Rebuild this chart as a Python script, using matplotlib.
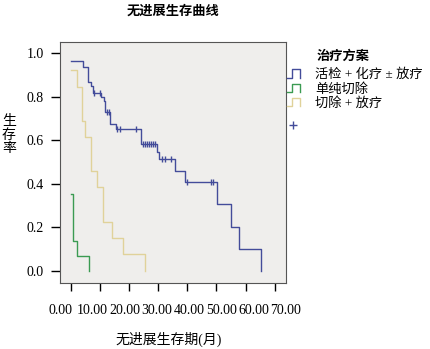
import numpy as np
import matplotlib
matplotlib.use("Agg")
import matplotlib.pyplot as plt
from matplotlib.lines import Line2D
from matplotlib.legend_handler import HandlerBase

plt.rcParams['font.family'] = ['Liberation Serif', 'Noto Sans CJK SC']
CJK_BOLD = ['Noto Sans CJK SC', 'DejaVu Sans']

# Kaplan-Meier steps (start time, then each drop)
t_biopsy = [0.1, 4.1, 6.0, 6.9, 7.5, 10.3, 11.3, 11.9, 13.5, 15.5, 24.0,
            29.7, 30.3, 35.8, 39.2, 50.1, 54.9, 57.9, 65.2]
s_biopsy = [0.966, 0.936, 0.866, 0.851, 0.816, 0.800, 0.780, 0.729, 0.675,
            0.652, 0.583, 0.545, 0.514, 0.459, 0.407, 0.306, 0.203, 0.099, 0.0]
c_biopsy = [8.0, 10.1, 12.3, 13.1, 16.0, 16.9, 22.3, 24.9, 25.6, 26.3, 26.9,
            27.6, 28.3, 29.0, 31.2, 32.4, 34.3, 39.8, 48.1, 48.9]

t_resect = [0.2, 0.9, 2.0, 6.2]
s_resect = [0.353, 0.138, 0.068, 0.0]

t_resect_rt = [0.2, 2.0, 4.0, 4.9, 7.0, 9.1, 11.2, 14.3, 18.1, 25.5]
s_resect_rt = [0.923, 0.844, 0.690, 0.614, 0.460, 0.384, 0.226, 0.149, 0.076, 0.0]

groups = ['活检 + 化疗 ± 放疗', '单纯切除', '切除 + 放疗']
colors = ['#434c9a', '#3b9b52', '#e0d29a']

xticks = [0, 10, 20, 30, 40, 50, 60, 70]
yticks = [0.0, 0.2, 0.4, 0.6, 0.8, 1.0]


class HandlerStep(HandlerBase):
    def create_artists(self, legend, orig_handle, xdescent, ydescent,
                       width, height, fontsize, trans):
        xs = -xdescent + width * np.array([0, 0.42, 0.42, 1.0, 1.0])
        ys = -ydescent + height * np.array([0, 0, 1, 1, 0])
        ln = Line2D(xs, ys, color=orig_handle.get_color(),
                    lw=orig_handle.get_linewidth(), transform=trans)
        return [ln]


fig = plt.figure(figsize=(4.31, 3.49), dpi=100)
ax = fig.add_axes([60 / 431, 66 / 349, 226 / 431, 241.3 / 349])
ax.set_facecolor('#efeeec')

lines = []
for t, s, col in zip([t_biopsy, t_resect, t_resect_rt],
                     [s_biopsy, s_resect, s_resect_rt], colors):
    ln, = ax.step(t, s, where='post', color=col, lw=1.0)
    lines.append(ln)

# censored observations on the first curve
idx = np.searchsorted(t_biopsy, c_biopsy, side='right') - 1
ax.plot(c_biopsy, np.array(s_biopsy)[idx], ls='none', marker='|',
        ms=4.5, mew=1.0, color=colors[0])

ax.set_xlim(-3.7, 73.9)
ax.set_ylim(-0.056, 1.053)
for sp in ax.spines.values():
    sp.set_color('#555555')
    sp.set_linewidth(0.8)

ax.set_yticks(yticks, labels=[f'{v:.1f}' for v in yticks])
ax.tick_params(axis='y', direction='out', length=6.5, width=1.0, pad=5,
               labelsize=10)
ax.set_xticks(xticks)
ax.tick_params(axis='x', direction='out', length=6.0, width=1.0,
               labelbottom=False)

# labels in the picture sit on a slightly wider spacing than the ticks
sec = ax.secondary_xaxis('bottom', functions=(lambda x: (x + 3.55) / 1.105,
                                              lambda v: v * 1.105 - 3.55))
sec.set_xticks(xticks, labels=[f'{v:.2f}' for v in xticks])
sec.tick_params(length=0, pad=15, labelsize=10)
sec.spines['bottom'].set_visible(False)

ax.text(0.5, 1.127, '无进展生存曲线', transform=ax.transAxes, ha='center',
        va='center', fontsize=9.5, fontweight='bold', family=CJK_BOLD)
ax.set_xlabel('无进展生存期(月)', fontsize=10, va='center')
ax.xaxis.set_label_coords(0.482, -0.232)
ax.set_ylabel('生\n存\n率', rotation=0, fontsize=10, ha='center', va='center',
              linespacing=1.05)
ax.yaxis.set_label_coords(-0.2257, 0.613)

leg = ax.legend(lines, groups, loc='upper left',
                bbox_to_anchor=(287 / 431, 1 - 68.5 / 349),
                bbox_transform=fig.transFigure, frameon=False,
                fontsize=9.5, borderpad=0, borderaxespad=0,
                handlelength=0.95, handleheight=0.6, handletextpad=1.2,
                labelspacing=0.12,
                handler_map={ln: HandlerStep() for ln in lines})
ax.add_artist(leg)
cens = Line2D([], [], ls='none', marker='+', ms=6, mew=1.0, color=colors[0])
ax.legend([cens], [''], loc='center left',
          bbox_to_anchor=(287 / 431, 1 - 127 / 349),
          bbox_transform=fig.transFigure, frameon=False, borderpad=0,
          borderaxespad=0, handlelength=0.95, handletextpad=0, fontsize=9.5)
fig.text(316.7 / 431, 1 - 56 / 349, '治疗方案', ha='left', va='center',
         fontsize=9.5, fontweight='bold', family=CJK_BOLD)

fig.savefig('out.png', dpi=100)
